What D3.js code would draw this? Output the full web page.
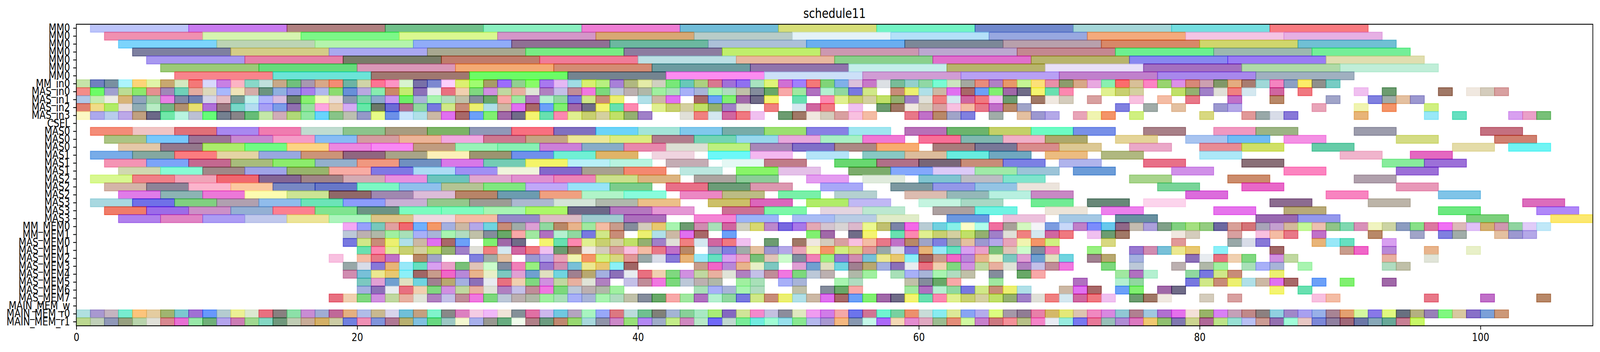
<!DOCTYPE html>
<html>
<head>
<meta charset="utf-8">
<script src="https://cdn.jsdelivr.net/npm/d3@7"></script>
<style>
  html, body { margin: 0; padding: 0; background: #ffffff; overflow: hidden; width: 100%; height: 100%; }
  #chart { width: 100vw; height: 100vh; }
  svg { display: block; width: 100%; height: 100%; }
  text { font-family: "DejaVu Sans", sans-serif; fill: #000; }
</style>
</head>
<body>
<div id="chart"></div>
<script>
// ---------------- DATA ----------------
const titleText = "schedule11";
const rowLabels = [
  "MM0","MM0","MM0","MM0","MM0","MM0","MM0",
  "MM_in0","MAS_in0","MAS_in1","MAS_in2","MAS_in3","CSEL",
  "MAS0","MAS0","MAS0","MAS1","MAS1","MAS1","MAS2","MAS2","MAS2","MAS3","MAS3","MAS3",
  "MM_MEM0","MM_MEM1",
  "MAS_MEM0","MAS_MEM1","MAS_MEM2","MAS_MEM3","MAS_MEM4","MAS_MEM5","MAS_MEM6","MAS_MEM7",
  "MAIN_MEM_w","MAIN_MEM_r0","MAIN_MEM_r1"
];
const xTicks = [0, 20, 40, 60, 80, 100];
const xMax = 108;

// MM0 rows (rows 0-6): task start times, each task lasts 7 units
const mm0Duration = 7;
const mm0Starts = [
  [1,8,15,22,29,36,43,50,57,64,71,78,85],
  [2,9,16,23,30,37,44,51,58,65,72,79,86],
  [3,10,17,24,31,38,45,52,59,66,73,80,87],
  [4,11,18,25,32,39,46,53,60,67,74,81,88],
  [5,12,19,26,33,40,47,54,61,68,75,82,89],
  [6,13,20,27,34,41,48,55,62,69,76,83,90],
  [7,14,21,28,35,42,49,56,63,70,77,84]
];
const mm0Colors = [
  ["#bcc4fa","#c97bf0","#b08080","#70c08a","#8af0c0","#ee7dd4","#70bcd8","#d6de78","#72f4c4","#7088cc","#a4d6d8","#74dee0","#f87a80"],
  ["#f090b0","#d6f4b0","#7cf888","#daf890","#d496c8","#d8a874","#b8ccc8","#e4f2f8","#b4e0f8","#98a8e0","#f4aa7c","#f4c4e4","#e6b0e4"],
  ["#7cd4fc","#bcd4b4","#b4f4ac","#90acf8","#907094","#6cb8a0","#acc0d8","#6aaef0","#7c8898","#b8a0ac","#d88868","#d0d66c","#70c0d4"],
  ["#7e80a0","#d4cc88","#aaa8f0","#a8a890","#78ec84","#8c7ca0","#c0ee6c","#cc98b0","#bca8d0","#c48890","#6cf090","#9cb8b0","#74ee98"],
  ["#a898f0","#e680a8","#787c68","#c07c6c","#f07c98","#bce0e4","#e8b8a0","#8ad08c","#e070cc","#b8b46c","#8888f0","#9a7cf4","#e0deb0"],
  ["#9cca78","#66dc7c","#da98b8","#f4aa74","#d48c74","#6c9ca0","#9074ac","#c4eeea","#b8b46c","#e8e0f8","#a470c0","#b0daa8","#c0eed8"],
  ["#f8848c","#6ce4d8","#a07870","#6cfc64","#748490","#fc8cf0","#cce0f8","#d09cd4","#b8a0f4","#c080cc","#a888ec","#a0b0c0"]
];

// MAS rows (rows 13-24): task start times, each task lasts 3 units
const masDuration = 3;
const masStarts = [
  [1,4,7,10,13,16,19,22,25,28,31,34,37,40,43,46,49,52,55,59,62,65,68,71,76,81,84,91,100],
  [2,5,8,11,14,17,20,23,26,29,32,35,38,41,44,47,50,53,56,60,63,66,69,74,79,82,86,94,101],
  [3,6,9,12,15,18,21,24,27,30,33,36,39,42,45,48,51,54,57,61,64,67,70,75,80,83,88,98,102],
  [1,4,7,10,13,16,19,22,25,28,31,34,37,41,45,48,52,56,59,62,65,69,73,80,90,95],
  [2,5,8,11,14,17,20,23,26,29,32,35,38,42,46,49,54,57,60,63,66,70,76,83,93,96],
  [3,6,9,12,15,18,21,24,27,30,33,36,39,43,47,50,55,58,61,64,67,71,78,86,94],
  [1,4,7,10,13,16,19,22,25,28,31,34,37,40,44,47,52,56,60,63,66,75,82,91],
  [2,5,8,11,14,17,20,23,26,29,32,35,38,42,45,48,53,58,61,64,67,77,83,94],
  [3,6,9,12,15,18,21,24,27,30,33,36,39,43,46,50,54,59,62,65,68,79,89,97],
  [1,4,7,10,13,16,19,22,25,28,31,34,37,40,45,48,52,55,60,63,68,72,76,85,92,103],
  [2,5,8,11,14,17,20,23,26,29,32,35,38,41,46,49,53,56,61,64,69,73,81,86,97,104],
  [3,6,9,12,15,18,21,24,27,30,33,36,39,44,47,51,54,57,62,66,70,74,84,87,99,105]
];
const masColors = [
  ["#f48c78","#f0c4c4","#e07078","#a888f0","#f07cb0","#c0dcd0","#8cc48c","#a89c80","#7cb464","#9098b8","#f87080","#8070c0","#6cd4f8","#a4e4d8","#80c8ec","#78aca8","#9ce070","#8880e4","#a0e6f0","#b870b8","#6cb46c","#c4d068","#6cfcc4","#7890e8","#a88088","#f098c0","#9cb484","#9c9cac","#c47080"],
  ["#acc484","#78c8fc","#9c7496","#c888d0","#f49cc8","#88bcf4","#d49ca0","#ecb498","#f0a8e0","#cc7890","#c4a484","#ece898","#dcec80","#b07c8c","#74d4b4","#98d8ec","#e8a8dc","#a8f0c4","#f078d4","#f87098","#80b8b0","#f0b0c8","#aca86c","#e4d498","#a8c4f0","#70bcf4","#f490e4","#d4dc84","#d08070"],
  ["#e4c8a8","#94788c","#acec6c","#70fc84","#fcd484","#ec88e0","#f888f4","#c09c80","#98f4b8","#88f0b4","#cc80d8","#88acc8","#e888ac","#dce0d4","#bcf080","#a888b8","#8070c8","#ac8884","#f8ac70","#a87c7c","#787898","#d88c8c","#dcc894","#eaa8c8","#e88c94","#d0e060","#60cca8","#e4dca8","#70f4f4"],
  ["#78ace8","#84a8a0","#fc7c80","#e4d4a4","#98a8e0","#cc9478","#906480","#a8a488","#fcf0b8","#9c9470","#7090ec","#70f0d4","#e0b468","#f0d4e0","#6cf8f8","#f4b8f0","#b4e4f8","#88c8c4","#dcbc9c","#68ece0","#70a8c0","#ecbc80","#b0b880","#ace8f8","#f0b4cc","#e468c0"],
  ["#f494b4","#7ca4f8","#c46890","#a8bc7c","#8cec6c","#94b0cc","#f09880","#7090c0","#d878e8","#74ccb4","#f4f468","#b8f0f8","#b8f4e0","#c4acb4","#e4f8f4","#c07c88","#68d870","#b07088","#786478","#c88c78","#7c80e4","#b0b4ec","#e87088","#8a7078","#88ec9c","#9c70d8"],
  ["#d0d8b0","#88fcd4","#a08888","#a0a4e8","#98b46c","#f8aca4","#8078e4","#acdcf4","#a090f4","#f0f4dc","#8468cc","#a8a090","#f48870","#bce8e0","#88f468","#e4c0e8","#7cac6c","#84a8fc","#dccaf8","#a0eaa8","#9cc4d8","#6c9cd8","#d090e8","#fc84c0","#9c70d8"],
  ["#d8f890","#f08088","#f0a4b8","#f06870","#846494","#a08488","#d4acb4","#e890e0","#6cc4bc","#e0a8d0","#e090d0","#ec84b8","#cce08c","#dcb480","#aca4a0","#8ccc98","#e49cf0","#dfeadc","#80c4d0","#bcbcc4","#80e4cc","#a8d48c","#cc8c6c","#b0a0ac"],
  ["#d4b4a8","#8c8498","#fcb4cc","#fcc8a0","#7888c4","#6878c8","#7cf8c4","#90c0ec","#b4c494","#80e880","#c0a8f8","#98e4f8","#7ccc8c","#e87088","#6c9c78","#dc98b0","#a8a8f8","#7c98a0","#9498e8","#94c4e4","#ece4dc","#78d498","#e868c8","#e898b8"],
  ["#e07ce8","#8cb4b4","#ec78d8","#fcfcb0","#cce494","#906868","#a088b0","#dcbcd8","#b88468","#6c9cb0","#f0a080","#b0f4c8","#88fcdc","#ec88c4","#bcbc84","#78f0a8","#b4d0d0","#dcbcb0","#94b8b8","#b8f0e0","#c888c4","#dc6cdc","#f884c0","#80c4e8"],
  ["#a8d8e0","#7070e8","#80d080","#b0a0b0","#90bcec","#6ce4b8","#8c9cfc","#c8b0d4","#94c88c","#9c9c94","#acb8d0","#d4e4d8","#b0b8ac","#ecc088","#ccc068","#dc64bc","#b0ec68","#c0b8f4","#c4f4e0","#a8d8c4","#70ec94","#688878","#fcd4ec","#8c6c90","#bcb4a8","#dc6cbc"],
  ["#f07c68","#9c6ce8","#cc90c8","#94b0d4","#fc8090","#80e490","#6c9484","#7cfcc0","#80fcc0","#a8f4b4","#acf868","#6c6888","#b478c0","#e498d4","#cc7094","#7cf8a8","#e4d4e0","#bce8d0","#aca0a0","#70f4e4","#ece4d8","#ec80ec","#e674ec","#b8aa78","#6ce880","#b088f8"],
  ["#b080ec","#e084c4","#ac9cf4","#c0c8ec","#ece498","#acf4bc","#dcc488","#ecd8e0","#f4bca4","#9488c8","#dcbcc4","#a0ccd0","#ac70bc","#f484d4","#9cb4f8","#a8bcf4","#b8cce4","#e0ecc8","#6c98e0","#ecc0dc","#a4c8e4","#6890a0","#9868b0","#9498ec","#7cd07c","#fce870"]
];

// Unit-length task rows: runs [start, end) of back-to-back 1-unit tasks
const mmIn0Runs   = [[0,90]];
const masIn0Runs  = [[0,57],[58,71],[73,76],[78,84],[85,86],[87,88],[91,92],[93,94],[97,98],[99,102]];
const masIn1Runs  = [[0,39],[40,43],[44,50],[51,52],[53,67],[68,71],[72,73],[75,76],[77,78],[79,80],[82,83],[85,86],[89,90],[92,96]];
const masIn2Runs  = [[0,40],[41,48],[49,50],[51,54],[55,56],[57,68],[74,75],[76,77],[78,79],[81,83],[88,89],[91,92],[93,94],[96,97]];
const masIn3Runs  = [[0,41],[43,49],[50,57],[59,64],[65,66],[67,70],[71,74],[75,76],[80,81],[83,87],[91,92],[96,97],[98,99],[102,105]];
const cselRuns    = [];
const mmMem0Runs  = [[19,105]];
const mmMem1Runs  = [[19,39],[40,45],[46,47],[52,54],[55,57],[58,71],[72,75],[78,80],[82,83],[84,87],[88,89],[92,93],[95,96],[97,99],[101,104]];
const masMem0Runs = [[19,28],[29,32],[33,48],[49,50],[51,70],[73,74],[78,79],[82,85],[88,91],[93,94]];
const masMem1Runs = [[20,44],[45,70],[72,73],[75,80],[81,82],[85,86],[90,92],[93,94],[96,97],[99,100]];
const masMem2Runs = [[18,19],[20,23],[24,26],[28,31],[32,71],[72,74],[75,76],[79,84],[85,87],[93,94],[96,97]];
const masMem3Runs = [[19,40],[44,50],[51,71],[73,74],[75,76],[78,79],[80,82],[83,86],[87,88],[93,95]];
const masMem4Runs = [[19,54],[55,57],[58,64],[65,66],[67,69],[74,77],[79,83],[85,86]];
const masMem5Runs = [[20,38],[39,46],[47,49],[50,52],[54,56],[59,63],[65,66],[71,72],[74,76],[79,87],[88,89],[90,91],[93,94]];
const masMem6Runs = [[20,39],[44,49],[51,52],[53,56],[59,68],[70,73],[74,76],[77,79],[85,86],[87,88]];
const masMem7Runs = [[18,74],[75,78],[80,81],[82,83],[88,90],[96,97],[100,101],[104,105]];
const mainWRuns   = [];
const mainR0Runs  = [[0,102]];
const mainR1Runs  = [[0,96]];

// colours read cell by cell for some unit rows (in order of the cells)
const mmIn0Colors = [
  "#c6e4a8","#7080c0","#7890a0","#acf4fc","#fcd478","#e0f4a8","#c8a870","#d4e8c0","#f47878","#d8d8fc","#c880e4","#fcb4c4","#88d8c8","#c0e0dc","#c8a888","#70c07c","#a898b0","#d8a888","#f48c74","#6cb4a4","#d0d4a8","#fc7494","#fc94c4","#d8f4d0",
  "#7870a8","#7c88d0","#fcd0fc","#dcf070","#a0fc70","#a89c68","#9c6cfc","#90d090","#88fc68","#a878f0","#e4b8f4","#a0dce4","#d8f070","#b8f080","#a880d8","#b0b880","#e4eca8","#d0d0c0","#78e878","#68c8b8","#acd080","#d87890","#a070d8","#9070f0",
  "#a8e4c0","#e0f478","#d070d4","#a080fc","#f47878","#80d478","#80b0e8","#dcc0dc","#c878c8","#dce0e4","#78bc98","#94d0cc","#90d8a4","#78fcd4","#cce4c0","#a4a8a0","#e88c7c","#b080c4","#e89868","#c4f494","#fce078","#e890a8","#8c9c6c","#d8a888",
  "#e8a8e0","#88f0b0","#fc6c6c","#d8c098","#fc84c4","#98d470","#dc90e8","#d88878","#cca0b0","#809868","#e4ac80","#a87c70","#a0d8d8","#f484c0","#8ca0c4","#fcec68","#90908c","#78ccc4"
];
const masIn0Colors = ["#f48c88","#6cfc5c","#a0a0d0","#bcdc94","#8ce86c","#e49090","#a088b8","#70d0b8","#e4aca0","#dcd8bc","#a8b8fc","#f0e4b8","#d4aca8","#6c9480","#90b0e0","#9090e0","#a880ec","#b0b8ec","#8cdc70","#6890d8","#b8a8e0","#88ecb0","#cc8868","#c4ec70"];
const masIn1Colors = ["#b0c8e8","#c4ecb0","#ecece4","#d8b478","#90a4bc","#a0d0a4","#e880e4","#8088a8","#7080b0","#d4d4e8","#e4bcc4","#7c9c98","#c0f0ec","#b0b4fc","#d8bce0","#6c8070","#88f070","#f0f8b8","#e8dcd8","#8898b0","#7cd4a8","#8ca8cc","#c898f0","#6cf068"];
const masIn2Colors = ["#e08070","#f0dc88","#b0ec60","#e8dcd8","#90acb4","#b8ecc4","#74b484","#b09070","#e8e070","#b070d8","#987880","#78d8c8","#b4dcf0","#a8a0f4","#7c9ce8","#9070b0","#98e0a0","#fca4e0","#e8ccac","#d4acf4","#60e8a8","#6c7868","#6c6cd4","#b07090"];
const masIn3Colors = ["#fcf8c4","#aca8ec","#b8ccec","#bca8e8","#c0a080","#6c6888","#70e8a8","#b8f4e0","#bcc0d4","#64fc78","#748090","#888488","#64bc78","#c4e8a8","#d0acb8","#b0d878","#90e8a4","#68d4fc","#88c488","#bcc0b0","#9498c8","#e8fc88","#6c90e8","#c8e4fc"];
const mmMem0Colors = [
  "#f4a8f4","#98a0fc","#78c8bc","#e0a0a0","#f06870",
  "#70b0fc","#f49868","#a4b0e0","#ccb8a4","#b4a8e8","#70d4e0","#c88c78","#a0aca8","#dca0d4","#90d8a0","#b88868","#e8b48c","#a0e8a0","#f4bca4","#c89c8c","#848c9c","#d4ccbc","#e8c870","#a8f4b0","#6c9c70","#d08cb0","#a8e0b8","#d060a0","#d0d0c0",
  "#d8d870","#bc88cc","#7868e0","#a878e8","#e4a8b4","#d4c4d0","#d8d4d4","#dcb8cc","#ecf890","#c0c070","#7c84a8","#f468e8","#b8ccd4","#70d0e0","#88f0e8","#fcfcc8","#b0fcec","#f070a0","#a8a098","#d4f8c0","#f4f4f8","#7c9ce0","#c8d8f8","#c080c8",
  "#7c8cfc","#68c8ec","#906888","#c4bcb0","#aca0dc","#80a088","#80d080","#a4e080","#94cc80","#6c68a0","#d8a098","#d47478","#a8a4b8","#c4a0d0","#d4b89c","#c4f898","#ecc0b0","#90c488","#80d8b0","#d890b8","#f0f4c0","#ccd4a4","#8c9cc0",
  "#88e088","#dc78a0","#f070f4","#dcb8b8","#e0c0f8","#d4b070","#d098b0","#90d4a0","#e0ccf8","#c0e8f8"
];
const mainR0Colors = [
  "#b0e0e0","#a898d0","#c4b4c0","#78ecd0","#fcc47c","#e4cca0","#a0b470","#7cc8d0","#a070d4","#6898fc","#b4ccd0","#ecf094","#dce8d0","#e87080","#888080","#8ce0a8","#c88cd4","#a0acd4","#c06898","#e4b080","#b0bce8","#c8b890","#d8d4ec","#70c0d8",
  "#c4a080","#80f4cc","#888888","#dc80c0","#f4cce4","#f0b8f8","#f0e4d8","#849098","#e070a4","#ccb8ec","#70c8e0","#b4a4c0","#a8f4c0","#98a8f8","#dc7880","#bcdcdc","#70c090","#808078","#a4b4d4","#88d098","#a8e8c4","#a8ec78","#8468c0","#d0e498",
  "#f488cc","#c4c0e0","#8c8c9c","#e0e8c0","#f09cf0","#d07ce8","#f4a8a8","#6c74ec","#d07494","#70f4d0","#78d0a0","#ec906c","#c8dcd8","#88ecf0","#dce898","#88a4f4","#b4acec","#dcfc80","#a498a8","#907c94","#e880a8","#d4b868","#e4e878","#dcc4b0",
  "#f088c0","#d888e0","#90c8d4","#b08090","#a0c8e0","#b070d0","#e470ec","#f4e0d8","#98b468","#d880f4","#c4a0b8","#c08888","#8c8080","#90d0e0","#a088c8","#a8a0f0","#98b0e8","#a88494","#e4a070","#d4f8a0","#8878e8","#e0f880","#687080","#b4b080","#9880b8","#80f880","#d8c8a0","#8870c8","#7ca0d8","#cc9878"
];
const mainR1Colors = [
  "#bcd890","#c0d0b8","#9098b8","#98a080","#b8d4ac","#e0e0d8","#d88890","#e870d4","#98e8a8","#70b078","#b4a4ec","#cc7cb4","#a0d890","#84d8c4","#70987c","#c0ccb4","#c8ac98","#d4b064","#cccca4","#7080e0","#f090b4","#8094dc","#b07894","#b8b070",
  "#80c0e0","#68d880","#9cc8c4","#f4f8d0","#a8b0ec","#989890","#68ac80","#f0fcec","#b08088","#6c9c80","#c08870","#98d870","#a8d8dc","#9094a8","#cc88c8","#98e078","#b488f4","#a0acc8","#c4ec88","#d088c0","#b8e8c8","#7068f8","#c0d8d0","#78ec98",
  "#70ece0","#a0fcd4","#98e0ec","#88e890","#b4b8ec","#a898d0","#f4b880","#8898b0","#c4f8e8","#ac68f8","#f4d8b4","#e48cd0","#e0a8c0","#9cbc90","#e48c78","#d0f8a0","#c880cc","#cc7880","#f49098","#b8c088","#f484c8","#e8ecf4","#98ece0","#7878f0",
  "#e87898","#98c0b8","#b08cd4","#dc78c0","#f0c870","#90c070","#8078b0","#ccd490","#b06898","#bce488","#98e0d4","#b8c0f4","#cc9c94","#9470b0","#a0fcd8","#e8c8c4","#7c88d8","#9080a0","#a06878","#6c78a8","#88a8b8","#68a898","#c88094","#c8f860"
];
// general palette of cell colours seen in the picture, for the remaining unit cells
const cellPalette = [
  "#e87080","#6ca0f8","#f49468","#a4b0e0","#ccb8a4","#b4a8e8","#70d4e0","#c88c78","#a0aca8","#e0a0d4","#90d8a0","#b88868","#e8b48c","#a0e8a0","#f4bca4","#c89c8c","#848c9c","#d4ccbc","#e8c870","#a8f4b0","#6c9c70","#d08cb0","#a8e0b8","#d060a0",
  "#f080b8","#bcb0b0","#e0e0d8","#e0c4b8","#f078e0","#c0e068","#d8a0f0","#b080c0","#e0f090","#e8b478","#c0d8a0","#f4f470","#98a8a8","#f0d0b0","#80f070","#d0f080","#8c70b8","#e070f0","#e8a4b8","#a08090","#ecf070","#e4c0a0","#70a0d0",
  "#7878e0","#a0a4c8","#e8f0c8","#b070c0","#e87888","#f060c8","#68a868","#d8a0a0","#8cf0f8","#b0dcc0","#a07850","#78c0d8","#a8b0f8","#f07880","#98f080","#b0b8a8","#f08080","#ccfccc","#7cd87c","#94b070","#eaa0c8","#c4c0e8","#c8d070",
  "#98e8f8","#e8b0a0","#68e0b0","#d8dce8","#80d880","#a068a8","#d8d880","#e8ecf0","#a86868","#f0f4b0","#b8a870","#b0e0e8","#9c98d0","#e0e0c0","#d0e888","#8080e0","#7cc8c0","#b4f0d0","#c070c8","#b888d8","#f8a8a8","#f8c0e0",
  "#a0604c","#c0c0a8","#f0e8e0","#ece890","#a8b4d8","#f0c0f0","#9878d0","#a0f0a0","#d4e8f0","#808ca0","#bcc8d8","#a080c8","#78c078","#c08c98","#d4d0a0","#60e0c0","#e0e4d8","#fc88b0","#8878d8","#d090e0","#706c88","#e09898"
];

// ---------------- LAYOUT ----------------
const W = 4904, H = 900;
const margin = { left: 234, right: 22, top: 62, bottom: 67 };
const plotW = W - margin.left - margin.right;
const plotH = H - margin.top - margin.bottom;
const fontTick = 27.8;
const fillAlpha = 0.6;

// the drawing is laid out on a 4904x900 frame and stretched onto the whole window
const svg = d3.select("#chart").append("svg")
  .attr("viewBox", `0 0 ${W} ${H}`)
  .attr("preserveAspectRatio", "none");

const x = d3.scaleLinear().domain([0, xMax]).range([margin.left, margin.left + plotW]);
const y = d3.scaleBand().domain(d3.range(rowLabels.length))
  .range([margin.top, margin.top + plotH]).paddingInner(0).paddingOuter(0);

// ---------------- BUILD BAR LIST ----------------
const bars = [];
mm0Starts.forEach((starts, r) => {
  starts.forEach((s, i) => bars.push({ row: r, start: s, dur: mm0Duration, color: mm0Colors[r][i] }));
});
masStarts.forEach((starts, k) => {
  starts.forEach((s, i) => bars.push({ row: 13 + k, start: s, dur: masDuration, color: masColors[k][i] || cellPalette[i % cellPalette.length] }));
});
const unitRows = [
  [7, mmIn0Runs, mmIn0Colors], [8, masIn0Runs, masIn0Colors], [9, masIn1Runs, masIn1Colors],
  [10, masIn2Runs, masIn2Colors], [11, masIn3Runs, masIn3Colors], [12, cselRuns, null],
  [25, mmMem0Runs, mmMem0Colors], [26, mmMem1Runs, null], [27, masMem0Runs, null], [28, masMem1Runs, null],
  [29, masMem2Runs, null], [30, masMem3Runs, null], [31, masMem4Runs, null], [32, masMem5Runs, null],
  [33, masMem6Runs, null], [34, masMem7Runs, null],
  [35, mainWRuns, null], [36, mainR0Runs, mainR0Colors], [37, mainR1Runs, mainR1Colors]
];
let paletteCounter = 0;
unitRows.forEach(([row, runs, own]) => {
  let k = 0;
  runs.forEach(([a, b]) => {
    for (let t = a; t < b; t++) {
      let c;
      if (own && k < own.length) c = own[k];
      else { c = cellPalette[(paletteCounter * 37 + row * 5) % cellPalette.length]; paletteCounter++; }
      bars.push({ row, start: t, dur: 1, color: c });
      k++;
    }
  });
});

// observed colour (over white, alpha 0.6) -> underlying colour
function baseColor(hex) {
  const c = d3.rgb(hex);
  const f = v => Math.max(0, Math.min(255, (v - 255 * (1 - fillAlpha)) / fillAlpha));
  return d3.rgb(f(c.r), f(c.g), f(c.b)).formatHex();
}

// ---------------- DRAW ----------------
svg.append("rect").attr("x", 0).attr("y", 0).attr("width", W).attr("height", H).attr("fill", "#fff");

const plot = svg.append("g");
plot.selectAll("rect.bar").data(bars).join("rect")
  .attr("class", "bar")
  .attr("x", d => x(d.start))
  .attr("y", d => y(d.row))
  .attr("width", d => x(d.start + d.dur) - x(d.start))
  .attr("height", y.bandwidth())
  .attr("fill", d => baseColor(d.color))
  .attr("fill-opacity", fillAlpha)
  .attr("stroke", d => baseColor(d.color))
  .attr("stroke-opacity", fillAlpha)
  .attr("stroke-width", 2.2);

// axes
const tickLen = 9.7, tickW = 2.2;
const xAxis = d3.axisBottom(x).tickValues(xTicks).tickFormat(d3.format("d"))
  .tickSize(tickLen).tickPadding(9.7);
const gx = svg.append("g").attr("transform", `translate(0,${margin.top + plotH})`).call(xAxis);
gx.select(".domain").remove();
gx.selectAll(".tick line").attr("stroke", "#000").attr("stroke-width", tickW);
gx.selectAll(".tick text").style("font-size", fontTick + "px").attr("fill", "#000");

const yAxis = d3.axisLeft(y).tickFormat(i => rowLabels[i]).tickSize(tickLen).tickPadding(9.7);
const gy = svg.append("g").attr("transform", `translate(${margin.left},0)`).call(yAxis);
gy.select(".domain").remove();
gy.selectAll(".tick line").attr("stroke", "#000").attr("stroke-width", tickW);
gy.selectAll(".tick text").style("font-size", fontTick + "px").attr("fill", "#000");

// frame
svg.append("rect")
  .attr("x", margin.left).attr("y", margin.top)
  .attr("width", plotW).attr("height", plotH)
  .attr("fill", "none").attr("stroke", "#000").attr("stroke-width", 2.2);

// title
svg.append("text")
  .attr("x", margin.left + plotW / 2).attr("y", 46)
  .attr("text-anchor", "middle")
  .style("font-size", "33.3px")
  .text(titleText);
</script>
</body>
</html>
